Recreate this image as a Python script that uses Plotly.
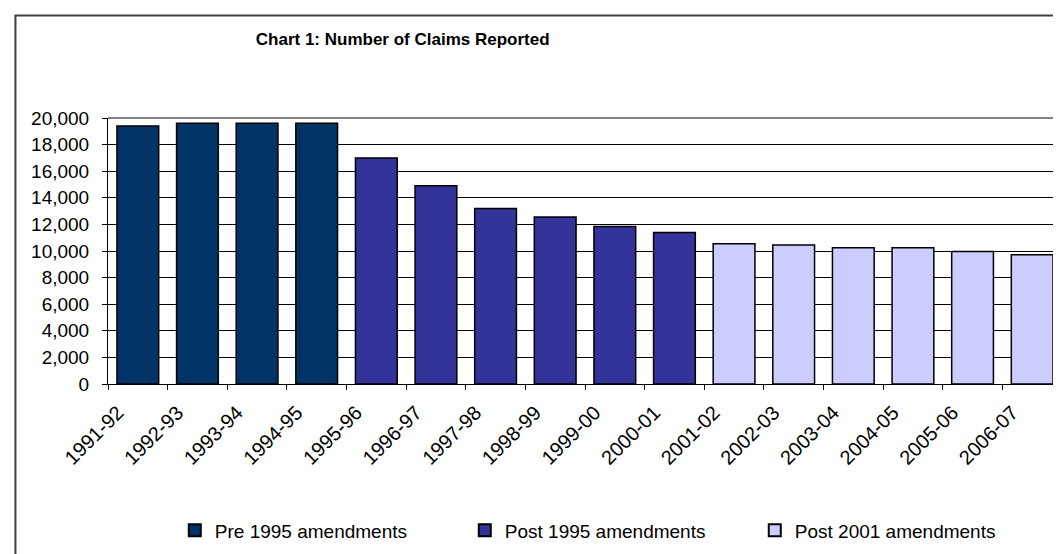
import plotly.graph_objects as go

# Colours of the three amendment periods
c = ["#003366", "#333399", "#CCCCFF"]

years_pre = ["1991-92", "1992-93", "1993-94", "1994-95"]
claims_pre = [19400, 19600, 19600, 19600]

years_post95 = ["1995-96", "1996-97", "1997-98", "1998-99", "1999-00", "2000-01"]
claims_post95 = [17000, 14900, 13200, 12550, 11850, 11400]

years_post01 = ["2001-02", "2002-03", "2003-04", "2004-05", "2005-06", "2006-07"]
claims_post01 = [10550, 10450, 10250, 10250, 9970, 9720]

series = [
    ("Pre 1995 amendments", years_pre, claims_pre),
    ("Post 1995 amendments", years_post95, claims_post95),
    ("Post 2001 amendments", years_post01, claims_post01),
]

font = "Liberation Sans, Arial, sans-serif"
narrow = "Liberation Sans Narrow, Arial Narrow, Liberation Sans, sans-serif"

fig = go.Figure()
for i, (name, x, y) in enumerate(series):
    fig.add_trace(
        go.Bar(
            x=x,
            y=y,
            name=name,
            width=0.7,
            marker={"color": c[i], "line": {"color": "#000000", "width": 1.5}},
        )
    )

fig.update_layout(
    width=1061,
    height=554,
    barmode="overlay",
    plot_bgcolor="white",
    paper_bgcolor="white",
    margin={"l": 100, "r": 7, "t": 110, "b": 178, "autoexpand": False},
    font={"family": font, "size": 18, "color": "#000000"},
    title={
        "text": "<b>Chart 1: Number of Claims Reported</b>",
        "x": 0.372,
        "xanchor": "center",
        "y": 0.944,
        "yanchor": "middle",
        "font": {"family": narrow, "size": 17},
    },
    legend={
        "orientation": "h",
        "x": 0.07,
        "xanchor": "left",
        "y": -0.55,
        "yanchor": "middle",
        "entrywidth": 245,
        "itemsizing": "constant",
        "font": {"family": font, "size": 19},
    },
    showlegend=True,
    xaxis={
        "type": "category",
        "categoryorder": "array",
        "categoryarray": years_pre + years_post95 + years_post01,
        "tickson": "boundaries",
        "ticks": "outside",
        "ticklen": 5,
        "tickcolor": "#000000",
        "showline": True,
        "linecolor": "#000000",
        "linewidth": 1,
        "showgrid": False,
        "tickangle": -45,
        "ticklabelshift": -20,
        "ticklabelstandoff": 8,
        "tickfont": {"size": 20},
    },
    yaxis={
        "range": [0, 20000],
        "dtick": 2000,
        "tickformat": ",d",
        "ticks": "outside",
        "ticklen": 5,
        "tickcolor": "#000000",
        "showline": True,
        "linecolor": "#000000",
        "linewidth": 1,
        "gridcolor": "#000000",
        "gridwidth": 1,
        "zeroline": False,
        "ticklabelstandoff": 9,
        "tickfont": {"size": 19},
    },
    shapes=[
        # plot area frame, top and right
        {"type": "line", "xref": "paper", "yref": "paper", "x0": 0, "x1": 1, "y0": 1, "y1": 1,
         "line": {"color": "#808080", "width": 2}},
        {"type": "line", "xref": "paper", "yref": "paper", "x0": 1, "x1": 1, "y0": 0, "y1": 1,
         "line": {"color": "#808080", "width": 2}},
        # chart area border
        {"type": "rect", "xref": "paper", "yref": "paper", "x0": -0.097, "x1": 1.02,
         "y0": -0.75, "y1": 1.385, "line": {"color": "#404040", "width": 2}},
    ],
)

fig.write_html("out.html")
